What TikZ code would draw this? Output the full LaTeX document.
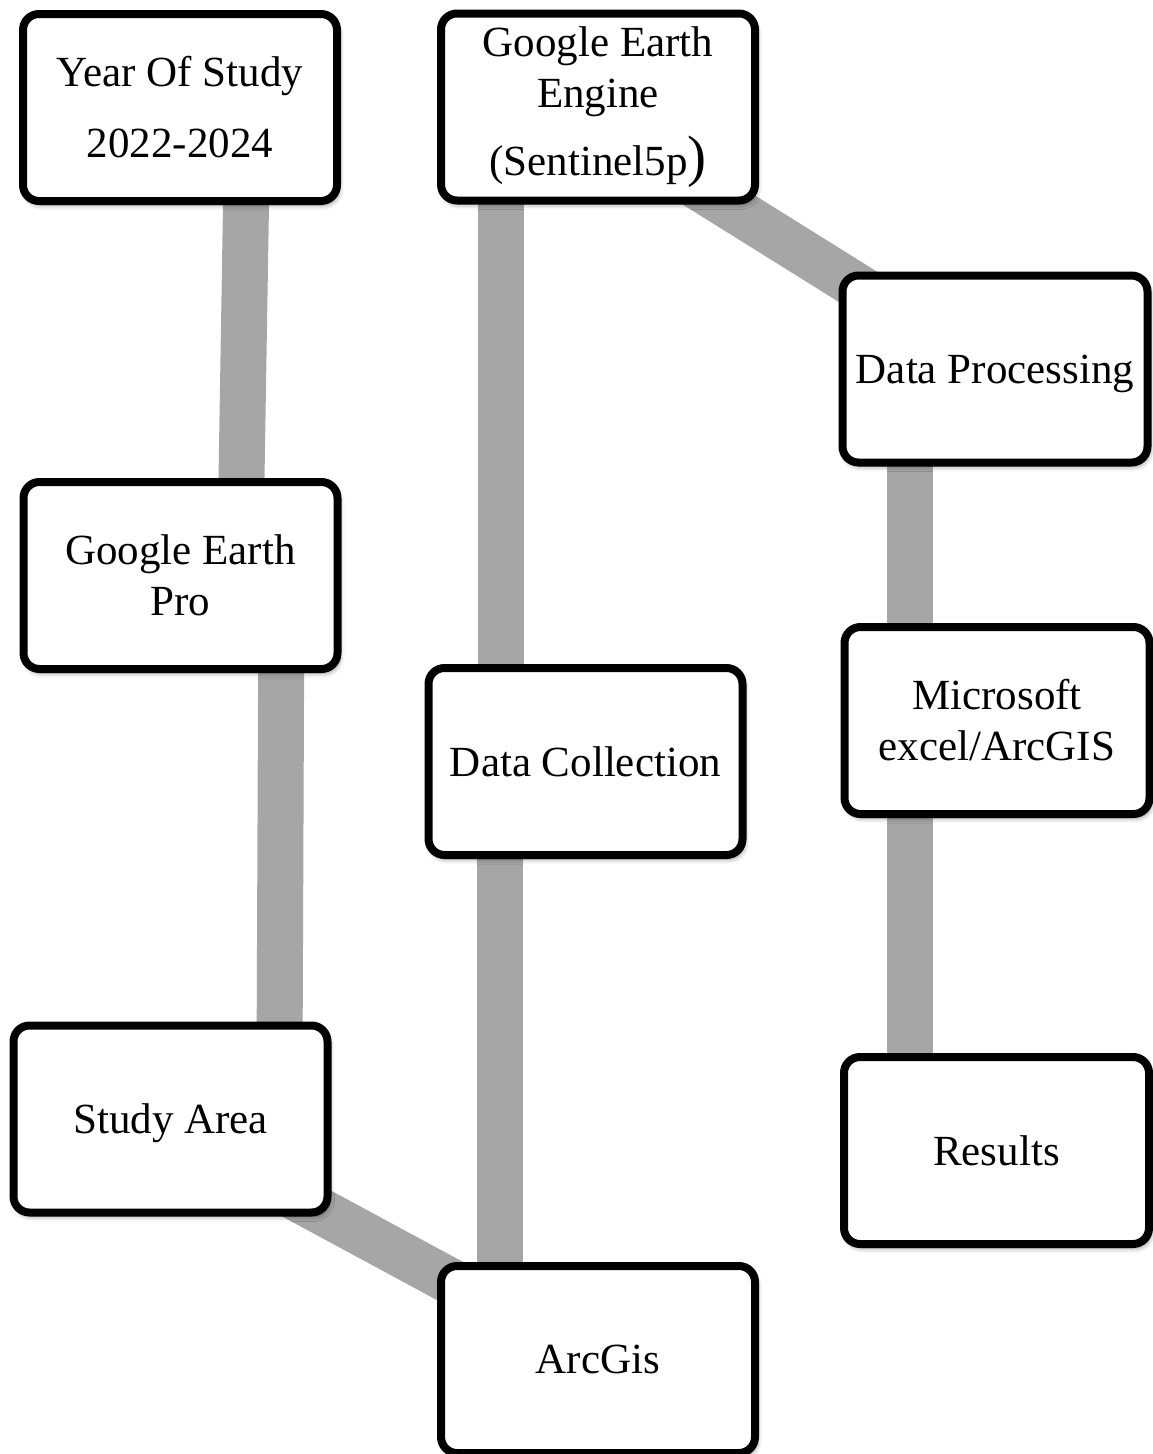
\documentclass[tikz,border=0pt]{standalone}
\usepackage{fontspec}
\setmainfont{Liberation Serif}
\usetikzlibrary{backgrounds,shadows.blur}
\definecolor{bargray}{RGB}{166,166,166}
\tikzset{
  box/.style={draw=black, line width=8pt, rounded corners=16pt, fill=white,
    minimum width=314pt, minimum height=187pt, inner sep=0pt, align=center,
    font=\fontsize{43}{51}\selectfont,
    blur shadow={shadow xshift=2pt, shadow yshift=-4pt, shadow blur radius=5pt, shadow opacity=45}},
  rbox/.style={box, minimum width=305pt},
  one/.style={text depth=0pt},
  bar/.style={draw=bargray, line width=46pt, line cap=butt}
}
\begin{document}
\begin{tikzpicture}[x=1pt,y=-1pt]
\useasboundingbox (0,0) rectangle (1153,1454);
\node[box]      (yos) at (180,107.5)  {Year Of Study\\[20pt]2022-2024};
\node[box]      (gee) at (598,107)    {Google Earth\\Engine\\[17pt](Sentinel5p{\fontsize{57}{57}\selectfont)}};
\node[rbox,one] (dp)  at (995,369)    {Data Processing};
\node[box]      (gep) at (180.5,575.5){Google Earth\\Pro};
\node[box,one]  (dc)  at (585.5,761.5){Data Collection};
\node[rbox]     (ms)  at (997,720.5)  {Microsoft\\excel/ArcGIS};
\node[box,one]  (sa)  at (170.5,1119) {Study Area};
\node[rbox,one] (res) at (996.5,1150.5){Results};
\node[box,one]  (arc) at (598,1359.5) {ArcGis};
\begin{scope}[on background layer]
  \draw[bar] ([xshift=67.6pt]yos.center) -- ([xshift=59.4pt]gep.center);
  \draw[bar] ([xshift=101pt]gep.center) -- ([xshift=108.8pt]sa.center);
  \draw[bar] ([shift={(79.5,54)}]sa.center) -- ([shift={(-78,-40.7)}]arc.center);
  \draw[bar] ([xshift=-97.5pt]gee.center) -- ([xshift=-85pt]dc.center);
  \draw[bar] ([xshift=-85.5pt]dc.center) -- ([xshift=-98pt]arc.center);
  \draw[bar] ([shift={(62,56.3)}]gee.center) -- ([shift={(-55,-31)}]dp.center);
  \draw[bar] ([xshift=-85pt]dp.center) -- ([xshift=-87pt]ms.center);
  \draw[bar] ([xshift=-87pt]ms.center) -- ([xshift=-86.5pt]res.center);
\end{scope}
\end{tikzpicture}
\end{document}
